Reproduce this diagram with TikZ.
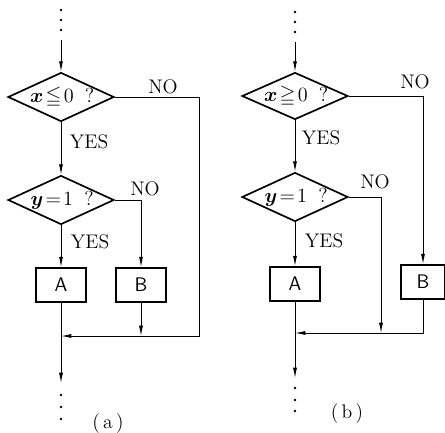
\documentclass[tikz,border=0pt]{standalone}
\usepackage{amsmath, amssymb}
\usepackage{bm}
\usepackage{tikz}
\usetikzlibrary{shapes.geometric, arrows.meta}

\begin{document}
\begin{tikzpicture}[x=0.25mm, y=-0.25mm,
    every node/.style={font=\fontsize{14}{16}\selectfont},
    decision/.style={diamond, draw, line width=1.2pt, minimum width=26.5mm, minimum height=12.25mm, inner sep=0pt},
    test/.style={font=\fontsize{14.5}{16}\selectfont, inner sep=0pt, xshift=0.3mm},
    process/.style={rectangle, draw, line width=1.2pt, minimum width=12.5mm, minimum height=8.5mm, inner sep=1pt, font=\fontsize{14}{16}\sffamily},
    flow/.style={line width=0.6pt, -{Latex[length=2.6mm, width=1mm]}},
    line/.style={line width=0.6pt}]
  \useasboundingbox (0,0) rectangle (445,432);
  % (a)
  \foreach \y in {10,20,30} \fill (61,\y) circle (1.3);
  \coordinate (ta) at (61,40);
  \node[decision, label={[test]center:$\bm{x}\mkern2mu{\leqq}\mkern2mu0\;\;?$}] (d1a) at (61,97) {};
  \node[decision, label={[test]center:$\bm{y}\mkern2mu{=}\mkern2mu1\;\;?$}] (d2a) at (61,200) {};
  \node[process] (Aa) at (61,285) {A};
  \node[process] (Ba) at (141,285) {B};
  \coordinate (ca) at (199,336);
  \coordinate (ja) at (61,336);
  \coordinate (ea) at (61,383);
  \draw[flow] (ta) -- (d1a.north);
  \draw[flow] (d1a.south) -- (d2a.north);
  \draw[flow] (d2a.south) -- (Aa.north);
  \draw[flow] (d2a.east) -| (Ba.north);
  \draw[flow] (d1a.east) -| (ca) -- (ja);
  \draw[flow] (Ba.south) -- (Ba.south |- ja);
  \draw[line] (Aa.south) -- (ja);
  \draw[flow] (ja) -- (ea);
  \foreach \y in {395,407,419} \fill (61,\y) circle (1.3);
  \node (noa1) at (163,87) {NO};
  \node (noa2) at (145,189) {NO};
  \node[anchor=west] (yesa1) at (65,142) {YES};
  \node[anchor=west] (yesa2) at (66,242) {YES};
  \node (laba) at (108,424) {(\,a\,)};
  % (b)
  \foreach \y in {12,22,32} \fill (295,\y) circle (1.3);
  \coordinate (tb) at (295,42);
  \node[decision, minimum height=11.75mm, label={[test]center:$\bm{x}\mkern2mu{\geqq}\mkern2mu0\;\;?$}] (d1b) at (295,96) {};
  \node[decision, label={[test]center:$\bm{y}\mkern2mu{=}\mkern2mu1\;\;?$}] (d2b) at (295,197) {};
  \node[process] (Ab) at (295,284) {A};
  \node[process, minimum width=11mm] (Bb) at (423,282) {B};
  \coordinate (cb) at (381,333);
  \coordinate (jb) at (295,333);
  \coordinate (eb) at (295,378);
  \draw[flow] (tb) -- (d1b.north);
  \draw[flow] (d1b.south) -- (d2b.north);
  \draw[flow] (d2b.south) -- (Ab.north);
  \draw[flow] (d1b.east) -| (Bb.north);
  \draw[flow] (d2b.east) -| (cb);
  \draw[flow] (Bb.south) |- (jb);
  \draw[line] (Ab.south) -- (jb);
  \draw[flow] (jb) -- (eb);
  \foreach \y in {388,400,411} \fill (295,\y) circle (1.3);
  \node (nob1) at (415,82) {NO};
  \node (nob2) at (375,182) {NO};
  \node[anchor=west] (yesb1) at (297,138) {YES};
  \node[anchor=west] (yesb2) at (300,241) {YES};
  \node (labb) at (347,414) {(\,b\,)};
\end{tikzpicture}
\end{document}
